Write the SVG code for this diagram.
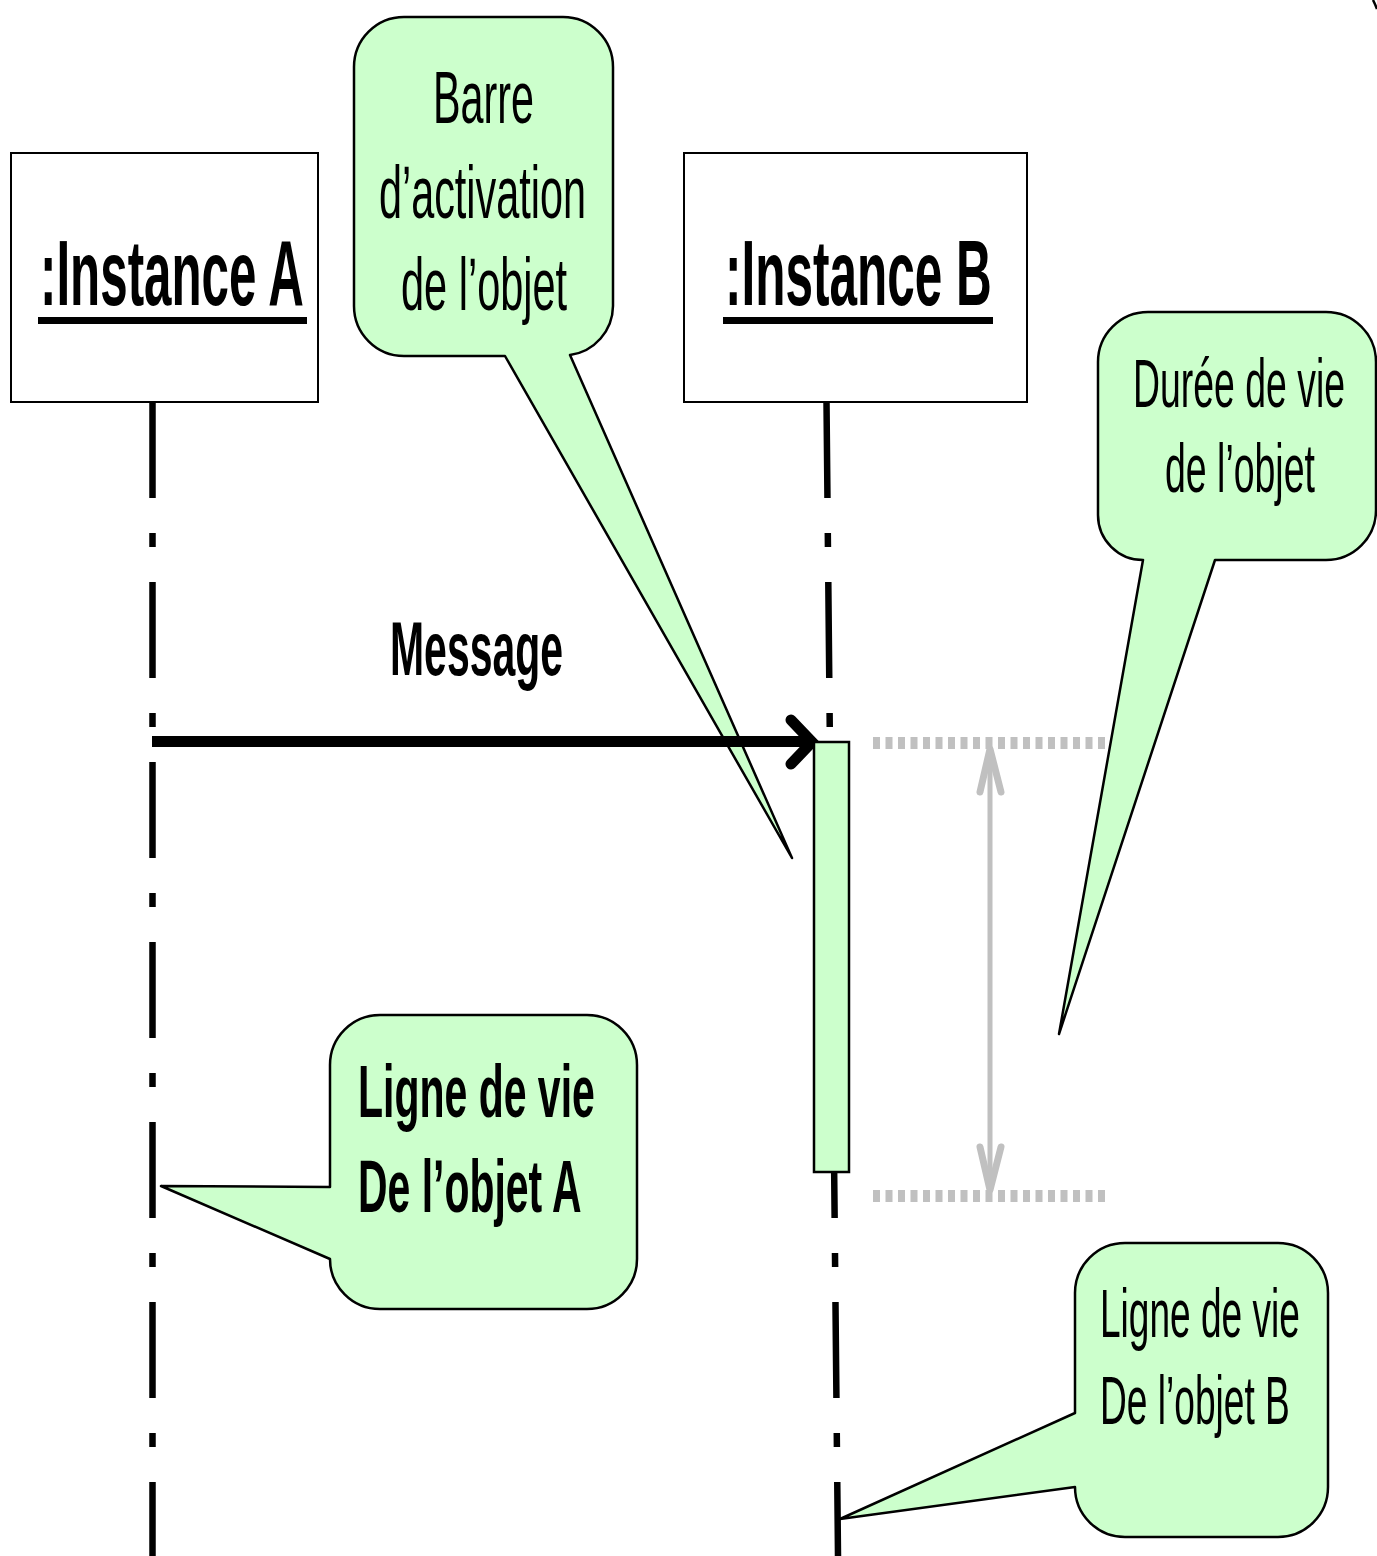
<svg xmlns="http://www.w3.org/2000/svg" width="1377" height="1556" viewBox="0 0 1377 1556">
<style>
.t{font-family:"Liberation Sans",Arial,sans-serif;fill:#000}
.b{font-weight:bold}
.box{fill:#fff;stroke:#000;stroke-width:2}
.call{fill:#CCFFCC;stroke:#000;stroke-width:2.5;stroke-linejoin:round}
.life{stroke:#000;stroke-width:6.5;stroke-dasharray:96 35 14 35;fill:none}
.grey{stroke:#C0C0C0;fill:none}
</style>
<rect width="1377" height="1556" fill="#fff"/>
<g id="connectors">
  <line class="life" x1="152.5" y1="402" x2="152.5" y2="1556"/>
  <line class="life" x1="826.5" y1="402" x2="838" y2="1556"/>
  <line x1="873" y1="743" x2="1105" y2="743" class="grey" stroke-width="12" stroke-dasharray="7 5.5"/>
  <line x1="873" y1="1196" x2="1105" y2="1196" class="grey" stroke-width="12" stroke-dasharray="7 5.5"/>
  <line x1="990" y1="752" x2="990" y2="1188" class="grey" stroke-width="5"/>
  <polyline points="980,792 990,749 1001,792" class="grey" stroke-width="7" stroke-linecap="round" stroke-linejoin="round"/>
  <polyline points="980,1147 990,1190 1001,1147" class="grey" stroke-width="7" stroke-linecap="round" stroke-linejoin="round"/>
</g>
<g id="instanceA">
  <rect class="box" x="11" y="153" width="307" height="249"/>
  <text class="t b" transform="translate(40,305) scale(0.536,1)" font-size="92">:Instance A</text>
  <rect x="38" y="317" width="269" height="7" fill="#000"/>
</g>
<g id="instanceB">
  <rect class="box" x="684" y="153" width="343" height="249"/>
  <text class="t b" transform="translate(725,305) scale(0.538,1)" font-size="92">:Instance B</text>
  <rect x="723" y="317" width="270" height="7" fill="#000"/>
</g>
<g id="callout-activation">
  <path class="call" d="M 404,17 H 563 A 50 50 0 0 1 613,67 V 306 A 50 50 0 0 1 570,355 L 792,858 L 505,356 H 404 A 50 50 0 0 1 354,306 V 67 A 50 50 0 0 1 404,17 Z"/>
  <text class="t" transform="translate(433,123) scale(0.558,1)" font-size="74">Barre</text>
  <text class="t" transform="translate(379,218) scale(0.559,1)" font-size="74">d’activation</text>
  <text class="t" transform="translate(401,310) scale(0.561,1)" font-size="74">de l’objet</text>
</g>
<g id="message">
  <line x1="152" y1="741.5" x2="808" y2="741.5" stroke="#000" stroke-width="11"/>
  <polyline points="791,720 812,742 791,764" fill="none" stroke="#000" stroke-width="11" stroke-linecap="round" stroke-linejoin="miter"/>
  <text class="t b" transform="translate(390,675) scale(0.539,1)" font-size="76">Message</text>
</g>
<g id="activation">
  <rect x="814" y="742" width="35" height="430" fill="#CCFFCC" stroke="#000" stroke-width="2.5"/>
</g>
<g id="callout-duree">
  <path class="call" d="M 1148,312 H 1326 A 50 50 0 0 1 1376,362 V 510 A 50 50 0 0 1 1326,560 H 1215 L 1059,1034 L 1143,560 A 45 45 0 0 1 1098,515 V 362 A 50 50 0 0 1 1148,312 Z"/>
  <text class="t" transform="translate(1133,407) scale(0.550,1)" font-size="68">Durée de vie</text>
  <text class="t" transform="translate(1165,492) scale(0.551,1)" font-size="68">de l’objet</text>
</g>
<g id="callout-ligneA">
  <path class="call" d="M 380,1015 H 587 A 50 50 0 0 1 637,1065 V 1259 A 50 50 0 0 1 587,1309 H 380 A 50 50 0 0 1 330,1259 L 161,1186 L 330,1187 V 1065 A 50 50 0 0 1 380,1015 Z"/>
  <text class="t b" transform="translate(358,1117) scale(0.554,1)" font-size="74">Ligne de vie</text>
  <text class="t b" transform="translate(358,1212) scale(0.553,1)" font-size="74">De l’objet A</text>
</g>
<g id="callout-ligneB">
  <path class="call" d="M 1125,1243 H 1278 A 50 50 0 0 1 1328,1293 V 1487 A 50 50 0 0 1 1278,1537 H 1125 A 50 50 0 0 1 1075,1487 L 840,1519 L 1075,1413 V 1293 A 50 50 0 0 1 1125,1243 Z"/>
  <text class="t" transform="translate(1100,1337) scale(0.545,1)" font-size="68">Ligne de vie</text>
  <text class="t" transform="translate(1100,1424) scale(0.546,1)" font-size="68">De l’objet B</text>
</g>
<path d="M 1373,0 Q 1375,4 1377,9" fill="none" stroke="#000" stroke-width="2.5"/>
</svg>
